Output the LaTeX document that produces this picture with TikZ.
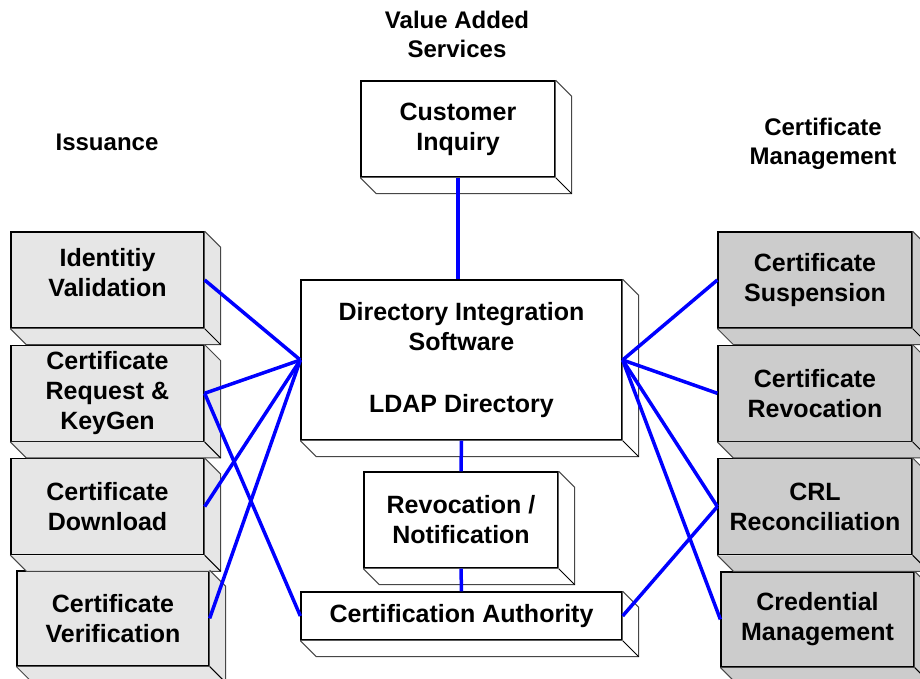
\documentclass[tikz,border=0pt]{standalone}
\usepackage{fontspec}
\setmainfont{Liberation Sans}
\usetikzlibrary{positioning}
\definecolor{LB}{RGB}{230,230,230}
\definecolor{RB}{RGB}{204,204,204}
\definecolor{EG}{RGB}{70,70,70}
\definecolor{LK}{RGB}{0,0,255}

\begin{document}
\begin{tikzpicture}[x=1pt, y=-1pt,
  box/.style={draw=black, line width=1.3pt, fill=white, inner sep=0pt,
              minimum width=194pt, minimum height=96pt, align=center,
              font=\fontsize{25}{30}\selectfont\bfseries},
  lbox/.style={box, fill=LB, minimum width=193pt},
  rbox/.style={box, fill=RB},
  head/.style={align=center, font=\fontsize{24}{29}\selectfont\bfseries},
  link/.style={draw=LK, line width=3.5pt}
]
\fill[white] (0,0) rectangle (920,679);
\useasboundingbox (0,0) rectangle (920,679);

% Headings
\node[head] (vas) at (457,34) {Value Added\\Services};
\node[head] (iss) at (107,142) {Issuance};
\node[head] (cmt) at (823,144) {Certificate\\Management};

% Issuance column
\node[lbox] (idv) at (107.5,280) {Identitiy\\Validation\\[-14pt]\mbox{}};
\node[lbox, below=16pt of idv] (crk) {Certificate\\Request \&\\KeyGen};
\node[lbox, below=16pt of crk] (cdl) {Certificate\\Download};
\node[lbox, below=15pt of cdl, xshift=5.5pt, minimum width=192pt,
      minimum height=95pt] (cvf) {Certificate\\Verification};

% Certificate management column
\node[rbox] (csp) at (815,280) {Certificate\\Suspension};
\node[rbox, below=16pt of csp] (crv) {Certificate\\Revocation};
\node[rbox, below=16pt of crv] (crl) {CRL\\Reconciliation};
\node[rbox, below=16pt of crl, xshift=2.5pt, minimum width=193pt,
      minimum height=95pt] (cmg) {Credential\\Management};

% Centre stack
\node[box] (cin) at (458,129) {Customer\\Inquiry};
\node[box, minimum width=321pt, minimum height=160pt] (dir) at (461.5,360)
  {Directory Integration\\Software\\[32pt]LDAP Directory};
\node[box] (rvn) at (461,520) {Revocation /\\Notification};
\node[box, minimum width=321pt, minimum height=48pt] (cau) at (461.5,616)
  {Certification Authority};

% Side and bottom faces
\foreach \b/\c in {idv/LB,crk/LB,cdl/LB,cvf/LB,csp/RB,crv/RB,crl/RB,cmg/RB,
                   cin/white,dir/white,rvn/white,cau/white}{
  \fill[\c] (\b.north east) -- ++(16,16) -- ([shift={(16,16)}]\b.south east)
    -- ([shift={(16,16)}]\b.south west) -- (\b.south west)
    -- (\b.south east) -- cycle;
  \draw[EG, line width=1pt] (\b.north east) -- ++(16,16)
    -- ([shift={(16,16)}]\b.south east) -- ([shift={(16,16)}]\b.south west)
    -- (\b.south west);
  \draw[black, line width=1pt] (\b.south east) -- ++(16,16);
}

% Connectors
\draw[link] (cin.south) -- (cin.south |- dir.north);
\draw[link] (dir.south) -- (rvn.north);
\draw[link] (rvn.south) -- (cau.north);
\foreach \b in {idv,crk,cdl,cvf}
  \draw[link] (\b.east) -- (dir.west);
\draw[link] (crk.east) -- (cau.west);
\foreach \b in {csp,crv,crl,cmg}
  \draw[link] (dir.east) -- (\b.west);
\draw[link] (cau.east) -- (crl.west);
\end{tikzpicture}
\end{document}
